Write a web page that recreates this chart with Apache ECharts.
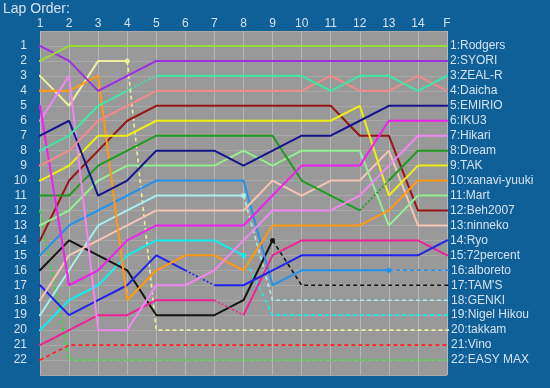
<!DOCTYPE html>
<html>
<head>
<meta charset="utf-8">
<script src="https://cdn.jsdelivr.net/npm/echarts@6/dist/echarts.min.js"></script>
<style>
html,body{margin:0;padding:0;background:#0f5f99;}
#c{width:550px;height:388px;}
</style>
</head>
<body>
<div id="c"></div>
<script>
// ---- data ----
const LAP_LABELS = ['1','2','3','4','5','6','7','8','9','10','11','12','13','14','F'];
const DRIVERS = ['Rodgers','SYORI','ZEAL-R','Daicha','EMIRIO','IKU3','Hikari','Dream','TAK','xanavi-yuuki','Mart','Beh2007','ninneko','Ryo','72percent','alboreto',"TAM'S",'GENKI','Nigel Hikou','takkam','Vino','EASY MAX'];

const rodgers   = [2,1,1,1,1,1,1,1,1,1,1,1,1,1,1];
const syori     = [1,2,4,3,2,2,2,2,2,2,2,2,2,2,2];
const zealR     = [8,7,5,4,3,3,3,3,3,3,4,3,3,4,3];
const daicha    = [9,8,6,5,4,4,4,4,4,4,3,4,4,3,4];
const emirio    = [7,6,11,10,8,8,8,9,8,7,7,6,5,5,5];
const iku3      = [5,17,16,14,13,13,13,13,11,9,9,9,6,6,6];
const hikari    = [6,3,20,20,17,17,16,14,12,12,12,11,9,7,7];
const dream     = [11,11,9,8,7,7,7,7,7,10,11,12,10,8,8];
const tak       = [10,9,7,7,6,6,6,6,6,6,6,5,11,9,9];
const xanavi    = [4,4,3,18,16,15,15,16,13,13,13,13,12,10,10];
const mart      = [13,12,10,9,9,9,9,8,9,8,8,8,13,11,11];
const beh2007   = [14,10,8,6,5,5,5,5,5,5,5,7,7,12,12];
const ninneko   = [18,15,14,13,12,12,12,12,10,11,10,10,8,13,13];
const ryo       = [17,19,18,17,15,16,17,17,16,15,15,15,15,15,14];
const pct72     = [21,20,19,19,18,18,18,19,15,14,14,14,14,14,15];
const alboreto  = [15,13,12,11,10,10,10,10,17,16,16,16,16,16,16];
const tams      = [16,14,15,16,19,19,19,18,14,17,17,17,17,17,17];
const genki     = [19,16,13,12,11,11,11,11,18,18,18,18,18,18,18];
const nigel     = [20,18,17,15,14,14,14,15,19,19,19,19,19,19,19];
const takkam    = [3,5,2,2,20,20,20,20,20,20,20,20,20,20,20];
const vino      = [22,21,21,21,21,21,21,21,21,21,21,21,21,21,21];
const easyMax   = [12,22,22,22,22,22,22,22,22,22,22,22,22,22,22];

const POSITIONS = [rodgers,syori,zealR,daicha,emirio,iku3,hikari,dream,tak,xanavi,mart,beh2007,ninneko,ryo,pct72,alboreto,tams,genki,nigel,takkam,vino,easyMax];

// lap after which the driver's line is dashed (retired)
const RETIRED_AFTER = {'takkam':4,'GENKI':8,'Nigel Hikou':8,"TAM'S":9,'alboreto':13,'Vino':1,'EASY MAX':1};
// lap starting a dotted (pit) segment
const PIT_LAP = {'ZEAL-R':4,'Ryo':6,'72percent':7,'Dream':12};

// ---- styles ----
const COLORS = ['#99dd33','#9b30e0','#3ee8a4','#f28a8a','#15158c','#f020f0','#ee88ee','#229922','#eeee10','#ff9911','#94ee94','#991515','#f4c4b4','#2222ee','#f02296','#2292ee','#151515','#a8eeee','#10eeee','#eeeea0','#ff2020','#33dd33'];
const TEXT = '#d2e2ee';
const FONT = 'Liberation Sans, Arial, sans-serif';
const STUB_L = 0.76, STUB_R = 15.28;

const series = [];
DRIVERS.forEach((name, di) => {
  const v = POSITIONS[di];
  const last = v[v.length-1];
  const pts = [[STUB_L, v[0]]].concat(v.map((p,i)=>[i+1,p])).concat([[STUB_R, last]]);
  const styleOf = k => {
    if (k === 0) return 'solid';
    if (RETIRED_AFTER[name] && k >= RETIRED_AFTER[name]) return 'dashed';
    if (PIT_LAP[name] === k) return 'dotted';
    return 'solid';
  };
  const runs = [];
  for (let k = 0; k < pts.length-1; k++) {
    const s = styleOf(k);
    if (runs.length && runs[runs.length-1].style === s) runs[runs.length-1].end = k+1;
    else runs.push({style:s, start:k, end:k+1});
  }
  const ret = RETIRED_AFTER[name];
  runs.forEach((r, ri) => {
    const data = [];
    for (let i = r.start; i <= r.end; i++) {
      const item = {value: pts[i]};
      if (ret && ret > 1 && i === ret && r.style !== 'dashed') { item.symbol = 'circle'; item.symbolSize = 5; }
      data.push(item);
    }
    const isLast = ri === runs.length-1;
    series.push({
      type:'line', name:name, data:data, clip:false, silent:true,
      symbol:'none', showSymbol:true,
      itemStyle:{color:COLORS[di]},
      lineStyle:{color:COLORS[di], width: r.style==='solid'?2:1.6,
        type: r.style==='dashed'?[4,3]:(r.style==='dotted'?[2,2]:'solid')},
      z: 30 - di,
      endLabel: isLast ? {show:true, formatter: () => last + ':' + name, color:TEXT,
        fontSize:12, fontFamily:FONT, distance:2} : {show:false}
    });
  });
});

const chart = echarts.init(document.getElementById('c'));
chart.setOption({
  animation:false,
  backgroundColor:'#0f5f99',
  title:{text:'Lap Order:', left:3, top:2, padding:0,
    textStyle:{color:TEXT, fontSize:14, fontWeight:'normal', fontFamily:FONT}},
  grid:{left:40, right:103, top:31, bottom:13, show:true, backgroundColor:'#999999', borderWidth:0},
  xAxis:{type:'value', position:'top', min:1, max:15, interval:1,
    axisLine:{show:false}, axisTick:{show:false},
    axisLabel:{color:TEXT, fontSize:12, margin:1, fontFamily:FONT,
      formatter: v => LAP_LABELS[v-1] || ''},
    splitLine:{show:true, lineStyle:{color:'#b6b6b6', width:1}}},
  yAxis:{type:'value', inverse:true, min:0, max:23, interval:1,
    axisLine:{show:false}, axisTick:{show:false},
    axisLabel:{color:TEXT, fontSize:12, margin:13, fontFamily:FONT,
      formatter: v => (v>=1 && v<=DRIVERS.length) ? String(v) : ''},
    splitLine:{show:true, lineStyle:{color:'#a8a8a8', width:1}}},
  series: series
});
</script>
</body>
</html>
